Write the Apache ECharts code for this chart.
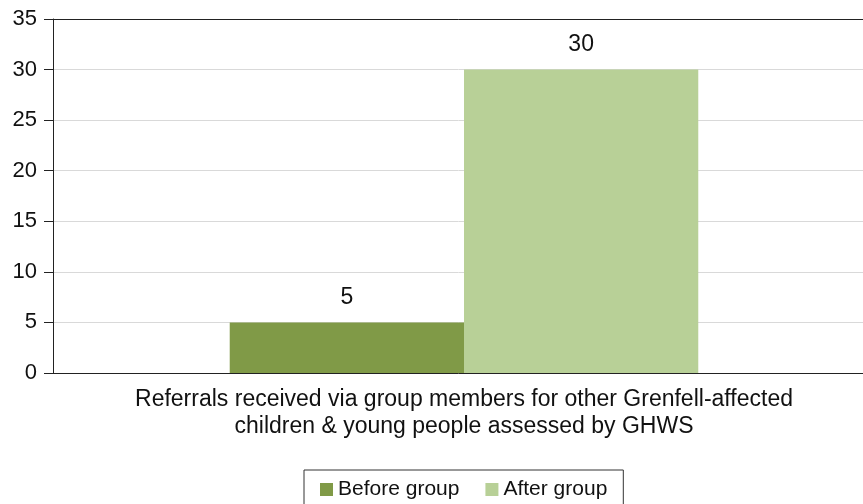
<!DOCTYPE html>
<html>
<head>
<meta charset="utf-8">
<script src="https://cdn.jsdelivr.net/npm/echarts@6/dist/echarts.min.js"></script>
<style>html,body{margin:0;padding:0;background:#fff}#c{width:863px;height:504px}</style>
</head>
<body>
<div id="c"></div>
<script>
const categories = ['Referrals received via group members for other Grenfell-affected\nchildren & young people assessed by GHWS'];
const seriesNames = ['Before group', 'After group'];
const beforeValues = [5];
const afterValues = [30];
const yTicks = [0, 5, 10, 15, 20, 25, 30, 35];

const chart = echarts.init(document.getElementById('c'), null, {renderer: 'canvas'});
const font = 'Liberation Sans, Arial, sans-serif';
chart.setOption({
  animation: false,
  textStyle: {fontFamily: font},
  grid: {left: 53, top: 19, width: 822, height: 354, outerBoundsMode: 'none', containLabel: false},
  legend: {
    top: 470, left: 304,
    data: seriesNames,
    itemWidth: 13, itemHeight: 13, itemGap: 26,
    icon: 'rect',
    borderColor: '#333', borderWidth: 1,
    padding: [9, 16, 10, 16],
    textStyle: {fontSize: 21, color: '#111', fontFamily: font}
  },
  xAxis: [{
    type: 'category',
    data: categories,
    axisLine: {lineStyle: {color: '#222', width: 1}},
    axisTick: {alignWithLabel: true, length: 5, lineStyle: {color: '#222'}},
    axisLabel: {fontSize: 23, color: '#111', lineHeight: 27, margin: 13, fontFamily: font}
  }, {
    type: 'category',
    position: 'top',
    data: categories,
    axisLine: {show: true, lineStyle: {color: '#222', width: 1}},
    axisTick: {show: false},
    axisLabel: {show: false}
  }],
  yAxis: {
    type: 'value',
    min: yTicks[0], max: yTicks[yTicks.length - 1], interval: 5,
    axisLine: {show: true, lineStyle: {color: '#222', width: 1}},
    axisTick: {show: true, length: 9, lineStyle: {color: '#222'}},
    axisLabel: {fontSize: 22, color: '#111', margin: 16, fontFamily: font},
    splitLine: {lineStyle: {color: '#d9d9d9', width: 1}}
  },
  series: [{
    name: seriesNames[0], type: 'bar', data: beforeValues,
    barGap: '0%', barCategoryGap: '43%',
    itemStyle: {color: '#809a47'},
    label: {show: true, position: 'top', distance: 13, fontSize: 23, color: '#111', fontFamily: font}
  }, {
    name: seriesNames[1], type: 'bar', data: afterValues,
    barGap: '0%', barCategoryGap: '43%',
    itemStyle: {color: '#b8d097'},
    label: {show: true, position: 'top', distance: 13, fontSize: 23, color: '#111', fontFamily: font}
  }]
});
</script>
</body>
</html>
